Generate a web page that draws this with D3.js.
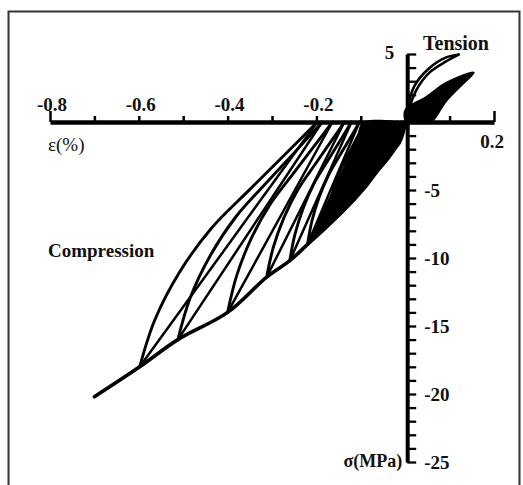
<!DOCTYPE html>
<html><head><meta charset="utf-8">
<script src="https://cdn.jsdelivr.net/npm/d3@7"></script>
<style>body{margin:0;background:#fff}svg{display:block}</style>
</head><body><svg id="c" width="523" height="485"></svg>
<script>
// ---- axis ticks / labels ----
const xTickValues = [-0.8,-0.7,-0.6,-0.5,-0.4,-0.3,-0.2,-0.1,0,0.1,0.2];
const xLabelValues = [-0.8,-0.6,-0.4,-0.2];
const xLabelTexts = ["-0.8","-0.6","-0.4","-0.2"];
const yTickValues = [5,4,3,2,1,0,-1,-2,-3,-4,-5,-6,-7,-8,-9,-10,-11,-12,-13,-14,-15,-16,-17,-18,-19,-20,-21,-22,-23,-24,-25];
const yLabelValues = [-5,-10,-15,-20,-25];
const yLabelTexts = ["-5","-10","-15","-20","-25"];

// ---- compression envelope (strain %, stress MPa) ----
const envStrain = [0,-0.005,-0.013,-0.022,-0.042,-0.065,-0.088,-0.115,-0.145,-0.18,-0.22,-0.26,-0.312,-0.40,-0.512,-0.598,-0.70];
const envStress = [0,-0.8,-1.5,-1.9,-2.8,-3.7,-4.7,-5.7,-6.7,-7.8,-9.0,-10.2,-11.4,-14.0,-16.0,-18.0,-20.2];

// ---- cycles: peak, residual strain, unloading curve points ----
const peakStrain = [-0.022,-0.042,-0.065,-0.088,-0.115,-0.145,-0.18,-0.22,-0.26,-0.312,-0.40,-0.512,-0.598];
const peakStress = [-1.9,-2.8,-3.7,-4.7,-5.7,-6.7,-7.8,-9.0,-10.2,-11.4,-14.0,-16.0,-18.0];
const residualStrain = [-0.008,-0.018,-0.03,-0.045,-0.06,-0.075,-0.09,-0.103,-0.121,-0.137,-0.164,-0.187,-0.198];
const unloadStrain = [
  [-0.0208,-0.0189,-0.0163,-0.0134,-0.0106],
  [-0.040,-0.0366,-0.0323,-0.0272,-0.0224],
  [-0.062,-0.0571,-0.0508,-0.0434,-0.0365],
  [-0.0843,-0.0783,-0.0706,-0.0615,-0.053],
  [-0.1103,-0.1026,-0.0927,-0.0811,-0.0702],
  [-0.139,-0.1293,-0.1167,-0.1018,-0.088],
  [-0.1724,-0.1598,-0.1436,-0.1245,-0.1067],
  [-0.2101,-0.1937,-0.1726,-0.1478,-0.1246],
  [-0.2482,-0.2287,-0.2037,-0.1742,-0.1467],
  [-0.2971,-0.2726,-0.2411,-0.204,-0.1694],
  [-0.3799,-0.3469,-0.3044,-0.2544,-0.2077],
  [-0.4844,-0.4389,-0.3804,-0.3115,-0.2471],
  [-0.564,-0.508,-0.436,-0.351,-0.272]
];
const unloadStress = [
  [-1.54,-1.16,-0.82,-0.53,-0.26],
  [-2.27,-1.72,-1.21,-0.78,-0.38],
  [-2.99,-2.27,-1.60,-1.02,-0.50],
  [-3.80,-2.88,-2.04,-1.30,-0.63],
  [-4.61,-3.49,-2.47,-1.58,-0.77],
  [-5.42,-4.11,-2.90,-1.86,-0.90],
  [-6.31,-4.78,-3.38,-2.16,-1.05],
  [-7.28,-5.52,-3.90,-2.49,-1.22],
  [-8.25,-6.25,-4.42,-2.83,-1.38],
  [-9.22,-6.99,-4.94,-3.16,-1.54],
  [-11.33,-8.58,-6.06,-3.88,-1.89],
  [-12.94,-9.81,-6.93,-4.43,-2.16],
  [-14.56,-11.03,-7.79,-4.99,-2.43]
];

// ---- dense core near origin (compression) ----
const coreStrain = [0,-0.095,-0.11,-0.135,-0.16,-0.185,-0.205,-0.22,-0.18,-0.145,-0.088,-0.013,0];
const coreStress = [0,0,-1.2,-3.0,-4.8,-6.4,-7.8,-9.0,-7.8,-6.7,-4.7,-1.5,-0.3];

// ---- tension ----
const tensUpperStrain = [0.003,0.02,0.054,0.092,0.12];
const tensUpperStress = [0.6,2.6,3.95,4.75,4.95];
const tensInnerStrain = [0.12,0.092,0.055,0.025,0.006];
const tensInnerStress = [4.95,4.45,3.65,2.35,0.7];
const tensWedgeStrain = [0,0,0.047,0.092,0.155,0.121,0.092,0.07,0.06];
const tensWedgeStress = [0,0.9,1.85,2.9,3.65,2.5,1.5,0.4,0];

// ---- drawing ----
const svg = d3.select("#c");
const x = d3.scaleLinear().domain([-0.8,0.2]).range([50,494]);
const y = d3.scaleLinear().domain([5,-25]).range([54,462]);
const font = "'Liberation Serif','Times New Roman',serif";

// border
svg.append("path").attr("d","M8.5,490 V11.5 H519.5 V490")
  .attr("fill","none").attr("stroke","#333").attr("stroke-width",2);

const zip = (a,b) => a.map((v,i)=>[v,b[i]]);
const line = d3.line().x(d=>x(d[0])).y(d=>y(d[1]));
const smooth = d3.line().x(d=>x(d[0])).y(d=>y(d[1])).curve(d3.curveCatmullRom.alpha(0.5));

const g = svg.append("g");
// filled areas
g.append("path").attr("d", smooth(zip(coreStrain,coreStress))+"Z").attr("fill","#000");
g.append("path").attr("d", smooth(zip(tensWedgeStrain,tensWedgeStress))+"Z").attr("fill","#000");

const stroke = (p, w) => g.append("path").attr("d", p).attr("fill","none")
  .attr("stroke","#000").attr("stroke-width", w||2.6).attr("stroke-linejoin","round").attr("stroke-linecap","round");

// envelope
stroke(smooth(zip(envStrain,envStress)), 3.6);
// cycles
peakStrain.forEach((ps,i)=>{
  const pts = [[ps,peakStress[i]]].concat(zip(unloadStrain[i],unloadStress[i]), [[residualStrain[i],0]]);
  stroke(smooth(pts), 2.9);
  stroke(line([[residualStrain[i],0],[ps,peakStress[i]]]), 2.5);
});
// tension loop
stroke(smooth(zip(tensUpperStrain,tensUpperStress)), 2.6);
stroke(smooth(zip(tensInnerStrain,tensInnerStress)), 2.6);
stroke(smooth(zip(tensWedgeStrain,tensWedgeStress)), 1.5);

// x axis
const xAxis = svg.append("g").attr("transform",`translate(0,${y(0)})`)
  .call(d3.axisTop(x).tickValues(xTickValues).tickSize(6).tickFormat("").tickSizeOuter(0));
xAxis.select(".domain").attr("stroke","#000").attr("stroke-width",4.5);
xAxis.selectAll(".tick line").attr("stroke","#000").attr("stroke-width",2.5)
  .attr("y2", d => (d===-0.8||d===0.2) ? -11 : -6);
// y axis
const yAxis = svg.append("g").attr("transform",`translate(${x(0)+2},0)`)
  .call(d3.axisRight(y).tickValues(yTickValues).tickSize(9).tickFormat("").tickSizeOuter(0));
yAxis.select(".domain").attr("stroke","#000").attr("stroke-width",4);
yAxis.selectAll(".tick line").attr("stroke","#000").attr("stroke-width",2.3)
  .attr("x2", d => d===0 ? 0 : 9);

// labels
const txt = (s, px, py, anchor, size, weight) => svg.append("text").text(s)
  .attr("x",px).attr("y",py).attr("text-anchor",anchor||"start")
  .attr("font-family",font).attr("font-size",size||19).attr("font-weight",weight||"bold").attr("fill","#111");

xLabelValues.forEach((v,i)=> txt(xLabelTexts[i], x(v)+2, y(0)-11, "middle"));
txt("0.2", x(0.2)-2, y(0)+26, "middle");
yLabelValues.forEach((v,i)=> txt(yLabelTexts[i], x(0)+19, y(v)+6.5, "start"));
txt("5", x(0)-11, y(5)+5, "end");
txt("Tension", 423, 50, "start", 20);
txt("Compression", 48, 257, "start", 19);
txt("ε(%)", 48, 151, "start", 19, "normal");
txt("σ(MPa)", x(0)-3, 467, "end", 18);
</script></body></html>
